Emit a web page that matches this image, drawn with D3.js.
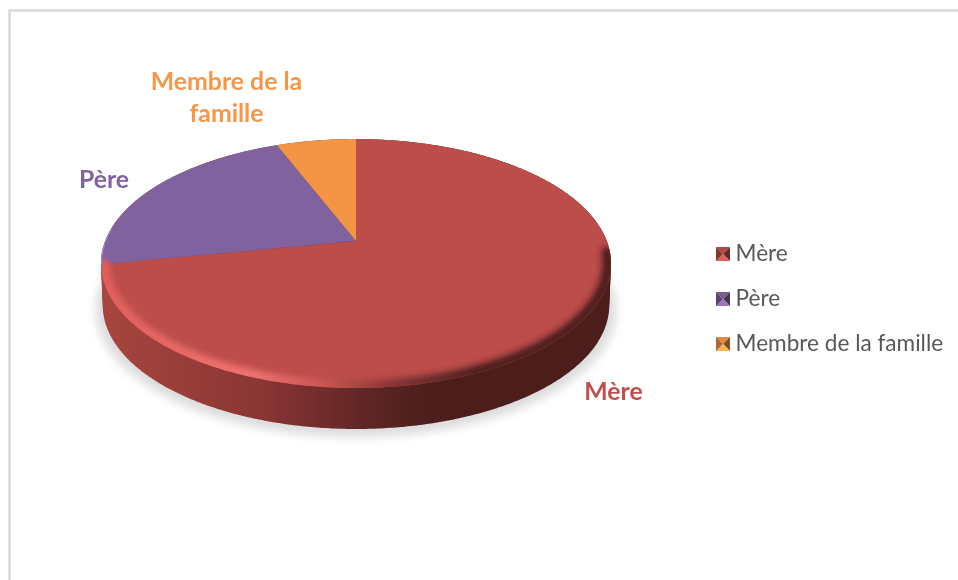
<!DOCTYPE html>
<html>
<head>
<meta charset="utf-8">
<script src="https://cdn.jsdelivr.net/npm/d3@7"></script>
<style>
  body { margin: 0; background: #fff; }
  text { font-family: Lato, "Noto Sans", sans-serif; }
</style>
</head>
<body>
<svg id="chart" width="958" height="580"></svg>
<script>
// values (share of the pie, in %)
const categories = ['Mère', 'Père', 'Membre de la famille'];
const shares = [72, 22, 6];
const colors = ['#bc4d4a', '#80629e', '#f39545'];
const labelColors = ['#c0504d', '#8064a2', '#f79646'];
const sideStops = ['#a8453f', '#8a3634', '#612725', '#4b1e1c'];
const sideOffsets = [100, 260, 360, 430];
const rimStops = ['#e05f5c', '#f27472', '#c45450', '#7a3230', '#4b1e1c'];
const rimOffsets = [100, 250, 330, 400, 480];

const svg = d3.select('#chart');
const defs = svg.append('defs');

// frame of the chart area
svg.append('path')
  .attr('d', 'M9.5,580V10.5H958')
  .attr('fill', 'none')
  .attr('stroke', '#d9d9d9')
  .attr('stroke-width', 2.5);

// pie is tilted with some perspective, apex is not the middle of the outline
const cx = 356, cy = 241;
const persp = 0.181, scaleX = 250.8, scaleY = 120.4;
function project(angle, r = 1, dy = 0, k = 1) {
  const u = Math.sin(angle) * r, v = Math.cos(angle) * r;
  const w = 1 + persp * v;
  return [cx + k * scaleX * u / w, cy + dy - k * scaleY * v / w];
}

const pie = d3.pie().sort(null).value(d => d);
const arcs = pie(shares);
const line = d3.line();

function slicePath(a) {
  const steps = d3.range(a.startAngle, a.endAngle, 0.01).concat([a.endAngle]);
  return line([[cx, cy], ...steps.map(t => project(t))]) + 'Z';
}
function outline(dy = 0, k = 1) {
  const steps = d3.range(0, 2 * Math.PI, 0.01);
  return line(steps.map(t => project(t, 1, dy, k))) + 'Z';
}

// horizontal gradients for the side wall and the rim
function hGradient(id, stops, xs) {
  const g = defs.append('linearGradient').attr('id', id)
    .attr('gradientUnits', 'userSpaceOnUse')
    .attr('x1', 0).attr('x2', 958).attr('y1', 0).attr('y2', 0);
  g.selectAll('stop').data(stops).join('stop')
    .attr('offset', (d, i) => xs[i] / 958)
    .attr('stop-color', d => d);
}
hGradient('side', sideStops, sideOffsets);
hGradient('rim', rimStops, rimOffsets);

function blur(id, sd, pad) {
  defs.append('filter').attr('id', id)
    .attr('x', -pad).attr('y', -pad)
    .attr('width', 1 + 2 * pad).attr('height', 1 + 2 * pad)
    .append('feGaussianBlur').attr('stdDeviation', sd);
}
blur('shadowBlur', 5, 0.1);
blur('rimBlur', 3, 0.1);
blur('soft', 0.5, 0.05);
defs.append('clipPath').attr('id', 'faceClip')
  .append('path').attr('d', outline());

// drop shadow
svg.append('path')
  .attr('d', outline(46, 1.02))
  .attr('fill', '#dcdcdc')
  .attr('filter', 'url(#shadowBlur)');

// side wall: hull of the top outline and the lower one
const wall = svg.append('g');
const dyScale = d3.scaleLinear().domain([0, 1]).range([0, 42]);
const kScale = d3.scaleLinear().domain([0, 1]).range([1, 0.993]);
d3.range(0, 1.01, 0.1).forEach(f => {
  wall.append('path')
    .attr('d', outline(dyScale(f), kScale(f)))
    .attr('fill', 'url(#side)');
});

// top face
svg.selectAll('path.slice').data(arcs).join('path')
  .attr('class', 'slice')
  .attr('d', d => slicePath(d))
  .attr('fill', (d, i) => colors[i]);

// bevel along the lower edge of the face only
const bevel = svg.append('g').attr('clip-path', 'url(#faceClip)');
const rimSteps = d3.range(Math.PI * 0.53, arcs[0].endAngle, 0.01);
bevel.append('path')
  .attr('d', line(rimSteps.map(t => project(t, 0.99))))
  .attr('fill', 'none')
  .attr('stroke', 'url(#rim)')
  .attr('stroke-width', 12)
  .attr('stroke-linecap', 'round')
  .attr('filter', 'url(#rimBlur)');
const purpleSteps = d3.range(arcs[1].startAngle, arcs[1].startAngle + 0.3, 0.01);
bevel.append('path')
  .attr('d', line(purpleSteps.map(t => project(t, 1))))
  .attr('fill', 'none')
  .attr('stroke', '#9a80cc')
  .attr('stroke-width', 2.5)
  .attr('filter', 'url(#soft)');

// data labels
const dataLabels = [
  { lines: ['Mère'], x: 613.5, y: 400, i: 0 },
  { lines: ['Père'], x: 104, y: 188, i: 1 },
  { lines: ['Membre de la', 'famille'], x: 226.5, y: 90, i: 2 }
];
const labels = svg.append('g').attr('filter', 'url(#soft)');
dataLabels.forEach(l => {
  labels.append('text')
    .attr('x', l.x).attr('y', l.y)
    .attr('text-anchor', 'middle')
    .attr('font-size', 24.8)
    .attr('font-weight', 700)
    .attr('fill', labelColors[l.i])
    .selectAll('tspan').data(l.lines).join('tspan')
    .attr('x', l.x)
    .attr('dy', (d, j) => j ? 32 : 0)
    .text(d => d);
});

// legend
const legendY = d3.scalePoint().domain(categories).range([254, 344]);
const legend = svg.append('g').attr('filter', 'url(#soft)')
  .selectAll('g').data(categories).join('g')
  .attr('transform', d => `translate(716,${legendY(d) - 7})`);
const s = 14;
const facets = [
  { pts: [[0, 0], [s, 0], [s / 2, s / 2]], c: c => d3.color(c).darker(0.2) },
  { pts: [[s, 0], [s, s], [s / 2, s / 2]], c: c => d3.color(c).darker(1.8) },
  { pts: [[s, s], [0, s], [s / 2, s / 2]], c: c => d3.color(c).brighter(0.5) },
  { pts: [[0, s], [0, 0], [s / 2, s / 2]], c: c => d3.color(c).darker(1) }
];
legend.each(function (d, i) {
  d3.select(this).selectAll('path').data(facets).join('path')
    .attr('d', f => line(f.pts) + 'Z')
    .attr('fill', f => f.c(colors[i]));
});
legend.append('text')
  .attr('x', 19.5).attr('y', 14)
  .attr('font-size', 22.6)
  .attr('fill', '#595959')
  .text(d => d);
</script>
</body>
</html>
